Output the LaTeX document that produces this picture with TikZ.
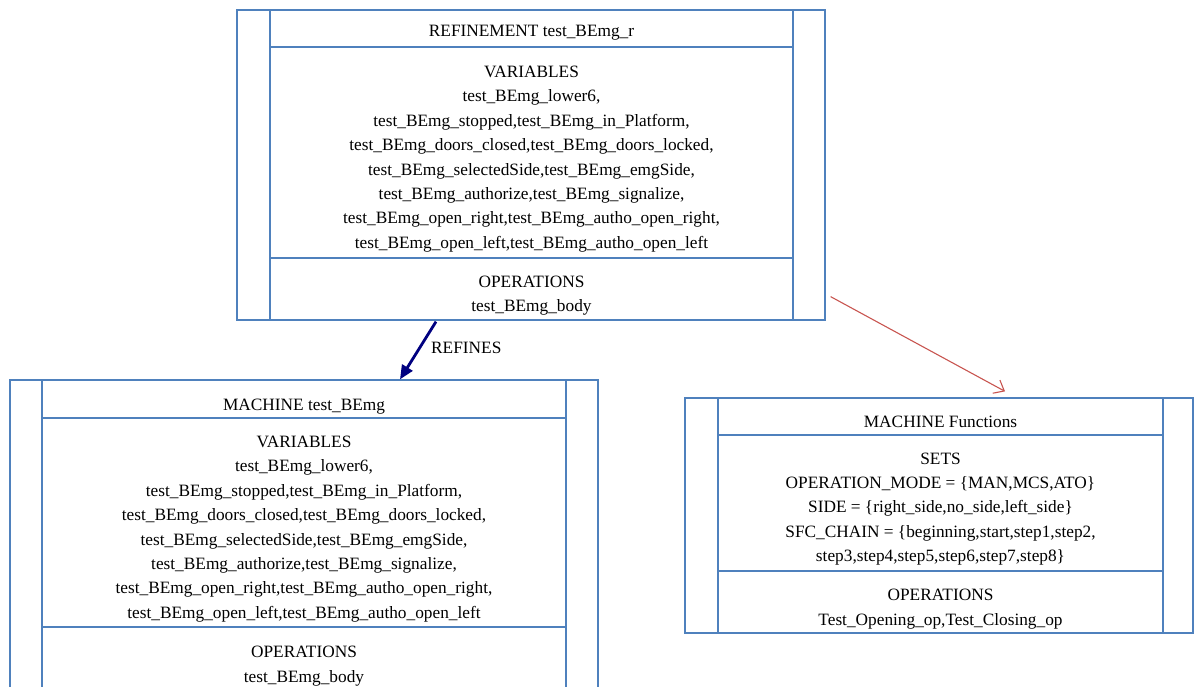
\documentclass[tikz,border=0pt]{standalone}
\usepackage{fontspec}
\setmainfont{Liberation Serif}
\usepackage{tikz}
\usetikzlibrary{calc}
\usetikzlibrary{arrows.meta}
\definecolor{boxblue}{RGB}{79,129,189}
\definecolor{refnavy}{RGB}{0,0,128}
\definecolor{linkred}{RGB}{200,85,80}
\tikzset{
  boxline/.style={draw=boxblue, line width=1.3pt},
  umlbox/.style={boxline, rectangle, inner sep=0pt},
  mtext/.style={align=center, inner sep=0pt, font=\fontsize{17.3}{24.4}\selectfont},
}

\begin{document}
\begin{tikzpicture}
    [x=1pt,y=-1pt]
    \useasboundingbox (0,0) rectangle (1195,687);
	\clip (0,0) rectangle (1195,687);
    % REFINEMENT box
    \node[umlbox, minimum width=588pt, minimum height=310pt] (refbox) at (531,165) {};
    \draw[boxline] (270,10) -- (270,320) (793,10) -- (793,320);
    \draw[boxline] (270,47) -- (793,47) (270,258) -- (793,258);
    \node[mtext] (reftitle) at (531.5,33) {REFINEMENT test\_BEmg\_r};
    \node[mtext] (refvars) at (531.5,159) {VARIABLES\\test\_BEmg\_lower6,\\test\_BEmg\_stopped,test\_BEmg\_in\_Platform,\\test\_BEmg\_doors\_closed,test\_BEmg\_doors\_locked,\\test\_BEmg\_selectedSide,test\_BEmg\_emgSide,\\test\_BEmg\_authorize,test\_BEmg\_signalize,\\test\_BEmg\_open\_right,test\_BEmg\_autho\_open\_right,\\test\_BEmg\_open\_left,test\_BEmg\_autho\_open\_left};
    \node[mtext] (refops) at (531.5,295.5) {OPERATIONS\\test\_BEmg\_body};
    % MACHINE test_BEmg
    \node[umlbox, minimum width=588pt, minimum height=340pt] (machbox) at (304,550) {};
    \draw[boxline] (42,380) -- (42,720) (566,380) -- (566,720);
    \draw[boxline] (42,418) -- (566,418) (42,627) -- (566,627);
    \node[mtext] (machtitle) at (304,407) {MACHINE test\_BEmg};
    \node[mtext] (machvars) at (304,529) {VARIABLES\\test\_BEmg\_lower6,\\test\_BEmg\_stopped,test\_BEmg\_in\_Platform,\\test\_BEmg\_doors\_closed,test\_BEmg\_doors\_locked,\\test\_BEmg\_selectedSide,test\_BEmg\_emgSide,\\test\_BEmg\_authorize,test\_BEmg\_signalize,\\test\_BEmg\_open\_right,test\_BEmg\_autho\_open\_right,\\test\_BEmg\_open\_left,test\_BEmg\_autho\_open\_left};
    \node[mtext] (machops) at (304,666) {OPERATIONS\\test\_BEmg\_body};
    % MACHINE Functions
    \node[umlbox, minimum width=508pt, minimum height=235pt] (funcbox) at (939,515.5) {};
    \draw[boxline] (718,398) -- (718,633) (1163,398) -- (1163,633);
    \draw[boxline] (718,435) -- (1163,435) (718,571) -- (1163,571);
    \node[mtext] (functitle) at (940.5,422) {MACHINE Functions};
    \node[mtext] (funcsets) at (940.5,509) {SETS\\OPERATION\_MODE = \{MAN,MCS,ATO\}\\SIDE = \{right\_side,no\_side,left\_side\}\\SFC\_CHAIN = \{beginning,start,step1,step2,\\step3,step4,step5,step6,step7,step8\}};
    \node[mtext] (funcops) at (940.5,609) {OPERATIONS\\Test\_Opening\_op,Test\_Closing\_op};
    % links
    \draw [refnavy, line width=2.8pt, -{Triangle[length=14pt,width=12pt]}] ($(refbox.south)+(-95,1)$) -- node[pos=0.45, right=10pt, mtext, text=black] {REFINES} ($(machbox.north)+(96,0)$);
    \draw [linkred, line width=1.1pt, -{Straight Barb[length=9pt,width=15pt]}] ($(refbox.south east)+(5,-24)$) -- ($(funcbox.north)+(66,-6)$);
\end{tikzpicture}
\end{document}
